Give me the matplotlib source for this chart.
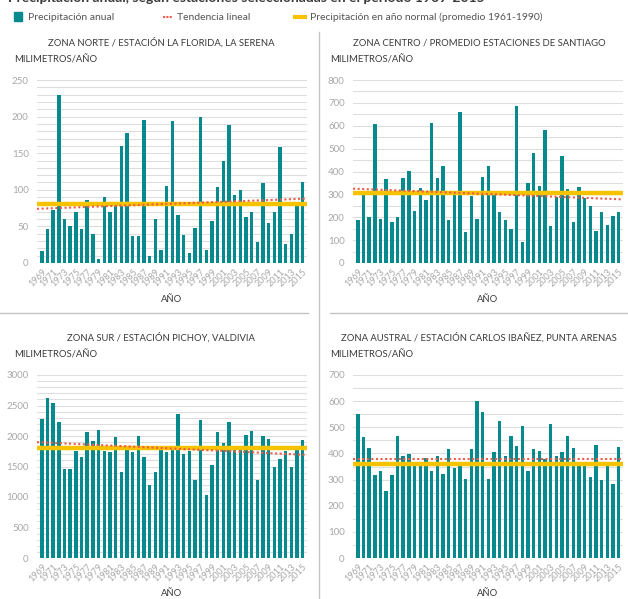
import numpy as np
import matplotlib
matplotlib.use("Agg")
import matplotlib.pyplot as plt
from matplotlib.lines import Line2D
from matplotlib.patches import Rectangle

plt.rcParams['font.family'] = ['Lato', 'DejaVu Sans']

years = list(range(1969, 2016))

norte = [16, 47, 73, 229, 60, 50, 69, 46, 86, 39,
         5, 90, 70, 79, 160, 178, 37, 37, 196, 10,
         60, 18, 105, 194, 65, 38, 14, 48, 199, 18,
         58, 104, 140, 188, 93, 100, 63, 69, 29, 109,
         55, 70, 158, 26, 40, 84, 111]
centro = [187, 304, 201, 607, 193, 366, 178, 201, 371, 404,
          226, 327, 274, 613, 371, 426, 190, 304, 658, 134,
          292, 194, 374, 422, 315, 222, 187, 149, 688, 91,
          349, 480, 336, 580, 161, 289, 466, 323, 178, 333,
          282, 248, 142, 222, 165, 205, 222]
sur = [2280, 2624, 2537, 2237, 1462, 1451, 1751, 1648, 2068, 1920,
       2100, 1762, 1740, 1986, 1407, 1789, 1740, 1997, 1648, 1195,
       1407, 1789, 1740, 1789, 2368, 1697, 1751, 1271, 2264, 1037,
       1522, 2068, 1893, 2231, 1780, 1844, 2024, 2079, 1282, 1997,
       1959, 1500, 1626, 1751, 1500, 1778, 1931]
austral = [549, 463, 421, 318, 333, 257, 316, 468, 392, 398,
           358, 358, 382, 331, 392, 322, 417, 344, 358, 302,
           417, 601, 559, 302, 405, 524, 392, 466, 428, 505,
           331, 417, 411, 379, 513, 389, 405, 468, 421, 367,
           367, 308, 433, 299, 369, 284, 423]

titles = ["ZONA NORTE / ESTACIÓN LA FLORIDA, LA SERENA",
          "ZONA CENTRO / PROMEDIO ESTACIONES DE SANTIAGO",
          "ZONA SUR / ESTACIÓN PICHOY, VALDIVIA",
          "ZONA AUSTRAL / ESTACIÓN CARLOS IBAÑEZ, PUNTA ARENAS"]
normales = [80, 305, 1810, 358]
tendencia = [(74, 88), (325, 278), (1900, 1690), (378, 378)]
ymax = [250, 800, 3000, 700]
ymajor = [50, 100, 500, 100]
yminor = [10, 50, 100, 50]

TEAL = "#078a8e"
RED = "#ef5a4c"
YELLOW = "#f7c200"
GRID = "#dedede"
TICK = "#a8a8a8"
DARK = "#3a3a3a"

W, H = 628, 599
fig = plt.figure(figsize=(W / 100, H / 100), dpi=100)


def fx(px):
    return px / W


def fy(py):
    return 1 - py / H


# heading cut off at the top edge, as in the source image
fig.text(fx(8), fy(2), "Precipitación anual, según estaciones seleccionadas en el período 1969-2015",
         fontsize=10, fontweight='bold', color=DARK, va='baseline', ha='left')

# legend
fig.patches.append(Rectangle((fx(14), fy(21)), fx(8), 9 / H, transform=fig.transFigure,
                             color=TEAL))
fig.text(fx(28), fy(17), "Precipitación anual", fontsize=7.5, color="#555555", va='center')
fig.lines.append(Line2D([fx(163), fx(172)], [fy(17), fy(17)], transform=fig.transFigure,
                        color=RED, lw=1.5, ls=(0, (1, 0.6))))
fig.text(fx(177), fy(17), "Tendencia lineal", fontsize=7.5, color="#555555", va='center')
fig.lines.append(Line2D([fx(295), fx(305)], [fy(17), fy(17)], transform=fig.transFigure,
                        color=YELLOW, lw=3))
fig.text(fx(310), fy(17), "Precipitación en año normal (promedio 1961-1990)", fontsize=7.5,
         color="#555555", va='center')

# separators
fig.lines.append(Line2D([fx(319), fx(319)], [fy(32), fy(599)], transform=fig.transFigure,
                        color="#c4c4c4", lw=1))
fig.lines.append(Line2D([fx(0), fx(308)], [fy(313), fy(313)], transform=fig.transFigure,
                        color="#c4c4c4", lw=1))
fig.lines.append(Line2D([fx(330), fx(628)], [fy(313), fy(313)], transform=fig.transFigure,
                        color="#c4c4c4", lw=1))

series = [norte, centro, sur, austral]
# (axes left px, axes top px, title center px, label left px)
layout = [(37, 80, 161, 14), (353, 80, 479, 330), (37, 375, 161, 14), (353, 375, 479, 330)]
x = np.arange(len(years))

for i, vals in enumerate(series):
    left, top, tc, ll = layout[i]
    bottom = top + 183
    ax = fig.add_axes([fx(left), fy(bottom), fx(270), 183 / H])
    ax.set_xlim(-0.85, len(years) - 0.25)
    ax.set_ylim(0, ymax[i])
    for g in np.arange(0, ymax[i] + 1, yminor[i]):
        ax.axhline(g, color=GRID, lw=0.8, zorder=0)
    ax.bar(x, vals, width=0.6, color=TEAL, zorder=2)
    ax.axhline(normales[i], color=YELLOW, lw=3.2, zorder=3)
    t0, t1 = tendencia[i]
    ax.plot([-0.85, len(years) - 0.25], [t0, t1], color=RED, lw=1.5,
            ls=(0, (1, 1.2)), zorder=4)
    for s in ax.spines.values():
        s.set_visible(False)
    ax.set_yticks(np.arange(0, ymax[i] + 1, ymajor[i]))
    ax.tick_params(axis='y', length=0, labelsize=7, labelcolor=TICK, pad=6)
    ax.set_xticks(x[::2])
    ax.set_xticklabels([str(y) for y in years[::2]], rotation=45, ha='right',
                       rotation_mode='anchor', fontsize=6.5, color=TICK)
    ax.tick_params(axis='x', length=0, pad=3)
    fig.text(fx(tc), fy(top - 37), titles[i], fontsize=6.8, color=DARK, ha='center', va='center')
    fig.text(fx(ll), fy(top - 20), "MILIMETROS/AÑO", fontsize=6.8, color=DARK, ha='left',
             va='center')
    fig.text(fx(left + 135), fy(bottom + 36), "AÑO", fontsize=6.8, color=DARK, ha='center',
             va='center')

fig.savefig("out.png", dpi=100)
